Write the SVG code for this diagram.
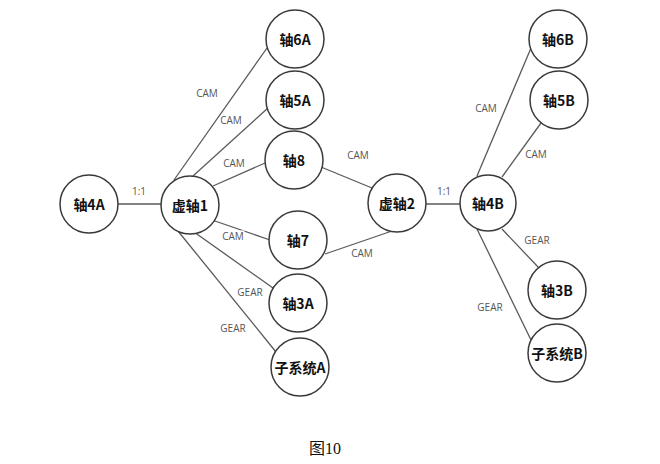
<svg xmlns="http://www.w3.org/2000/svg" width="660" height="464" viewBox="0 0 660 464">
<style>
.n circle{fill:#fff;stroke:#3a3a3a;stroke-width:1.5}
.n text{font-family:"Noto Sans CJK SC","Liberation Sans",sans-serif;font-weight:bold;font-size:14px;fill:#111;text-anchor:middle;dominant-baseline:central}
.e line{stroke:#5a5a5a;stroke-width:1.3}
.l{font-family:"Open Sans","Liberation Sans",sans-serif;font-size:10px;fill:#555;text-anchor:middle;dominant-baseline:central;stroke:#fff;stroke-width:3;paint-order:stroke}
</style>
<rect width="660" height="464" fill="#fff"/>
<g id="connectors" class="e">
<line x1="118" y1="204" x2="161" y2="204"/>
<line x1="174" y1="180" x2="267" y2="48"/>
<line x1="193" y1="176" x2="268" y2="108"/>
<line x1="213" y1="186" x2="265" y2="163"/>
<line x1="212" y1="220" x2="270" y2="240"/>
<line x1="194" y1="232" x2="273" y2="288"/>
<line x1="178" y1="231" x2="276" y2="352"/>
<line x1="321" y1="167" x2="372" y2="188"/>
<line x1="325" y1="254" x2="392" y2="231"/>
<line x1="426" y1="204" x2="460" y2="204"/>
<line x1="477" y1="176" x2="531" y2="48"/>
<line x1="502" y1="177" x2="541" y2="123"/>
<line x1="502" y1="229" x2="539" y2="268"/>
<line x1="477" y1="229" x2="531" y2="340"/>
<text class="l" x="139" y="191">1:1</text>
<text class="l" x="207" y="93">CAM</text>
<text class="l" x="231" y="120">CAM</text>
<text class="l" x="234" y="163">CAM</text>
<text class="l" x="233" y="236">CAM</text>
<text class="l" x="250" y="292">GEAR</text>
<text class="l" x="233" y="328">GEAR</text>
<text class="l" x="358" y="155">CAM</text>
<text class="l" x="362" y="253">CAM</text>
<text class="l" x="444" y="191">1:1</text>
<text class="l" x="486" y="108">CAM</text>
<text class="l" x="536" y="154">CAM</text>
<text class="l" x="537" y="240">GEAR</text>
<text class="l" x="490" y="307">GEAR</text>
</g>
<g id="n4A" class="n"><circle cx="89" cy="204" r="29"/><text x="89" y="204">轴4A</text></g>
<g id="nV1" class="n"><circle cx="190" cy="205" r="29"/><text x="190" y="205">虚轴1</text></g>
<g id="n6A" class="n"><circle cx="295" cy="39" r="29"/><text x="295" y="39">轴6A</text></g>
<g id="n5A" class="n"><circle cx="295" cy="100" r="29"/><text x="295" y="100">轴5A</text></g>
<g id="n8" class="n"><circle cx="294" cy="160" r="29"/><text x="294" y="160">轴8</text></g>
<g id="n7" class="n"><circle cx="298" cy="240" r="29"/><text x="298" y="240">轴7</text></g>
<g id="n3A" class="n"><circle cx="298" cy="303" r="29"/><text x="298" y="303">轴3A</text></g>
<g id="nSA" class="n"><circle cx="300" cy="367" r="29"/><text x="300" y="367">子系统A</text></g>
<g id="nV2" class="n"><circle cx="397" cy="203" r="29"/><text x="397" y="203">虚轴2</text></g>
<g id="n4B" class="n"><circle cx="488" cy="203" r="28"/><text x="488" y="203">轴4B</text></g>
<g id="n6B" class="n"><circle cx="558" cy="39" r="29"/><text x="558" y="39">轴6B</text></g>
<g id="n5B" class="n"><circle cx="559" cy="100" r="29"/><text x="559" y="100">轴5B</text></g>
<g id="n3B" class="n"><circle cx="557" cy="290" r="29"/><text x="557" y="290">轴3B</text></g>
<g id="nSB" class="n"><circle cx="557" cy="353" r="29"/><text x="557" y="353">子系统B</text></g>
<text x="325" y="454" font-family="'Liberation Serif','Noto Sans CJK SC',serif" font-size="16" fill="#111" text-anchor="middle">图10</text>
</svg>
